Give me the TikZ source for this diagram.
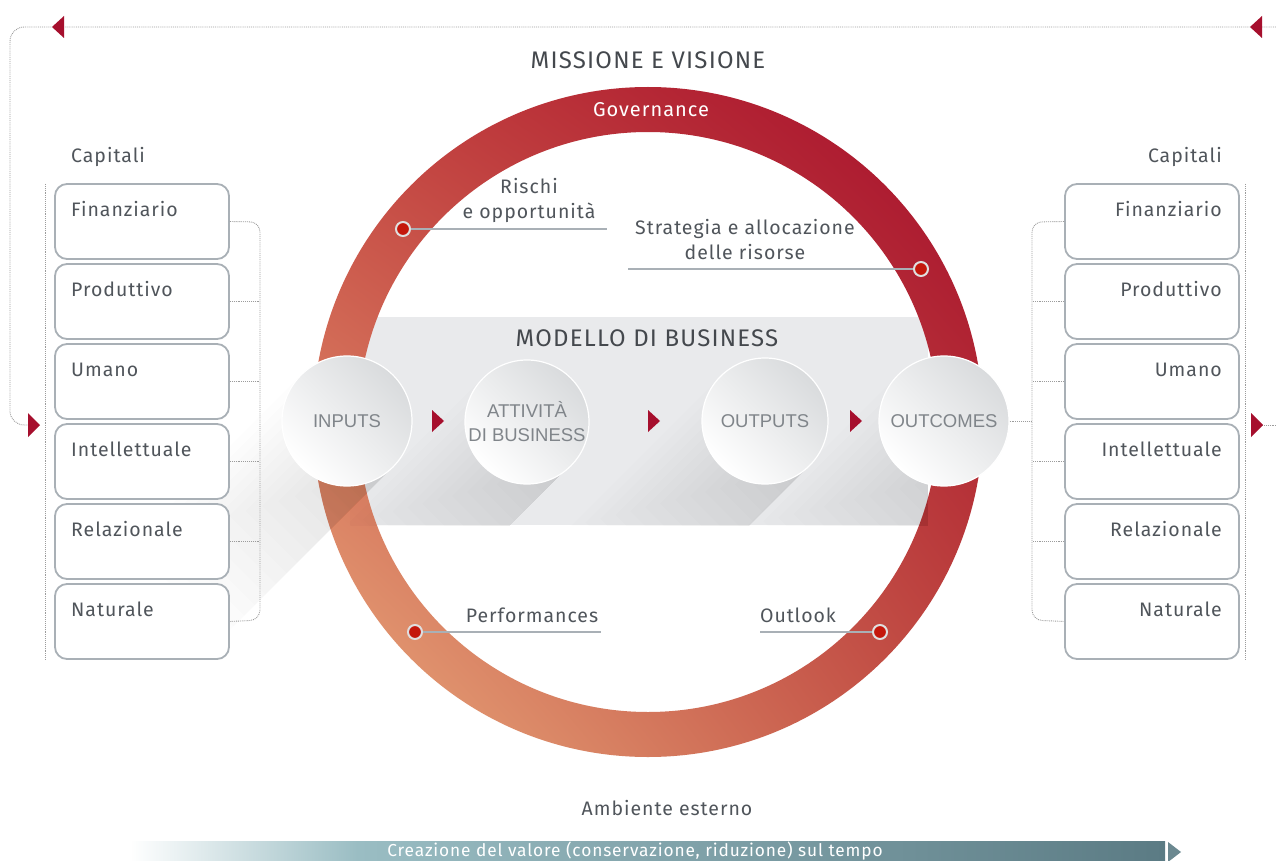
\documentclass[tikz,border=0pt]{standalone}
\usepackage{fontspec}
\setmainfont{Fira Sans}[LetterSpace=5]
\newfontfamily\arialf{Liberation Sans}
\usetikzlibrary{shadings}
\definecolor{txt}{HTML}{50555B}
\definecolor{boxc}{HTML}{A9B0B6}
\definecolor{dotc}{HTML}{9C9C9C}
\definecolor{crim}{HTML}{A60F2D}
\definecolor{bandc}{HTML}{E9EAEC}
\definecolor{ringUR}{HTML}{A50A2A}
\definecolor{ringUL}{HTML}{C4443F}
\definecolor{ringLR}{HTML}{C04A40}
\definecolor{ringLL}{HTML}{EBAE7E}
\definecolor{circT}{HTML}{D9DBDD}
\definecolor{ctext}{HTML}{80858A}
\definecolor{reddot}{HTML}{C4170C}
\definecolor{leadc}{HTML}{A9B0B6}
\definecolor{bara}{HTML}{9ABDC3}
\definecolor{barb}{HTML}{5B7B84}
\pgfdeclarehorizontalshading{barshade}{100bp}{color(0bp)=(white); color(25bp)=(white); color(36bp)=(bara); color(75bp)=(barb); color(100bp)=(barb)}
\begin{document}
\begin{tikzpicture}[x=1pt,y=-1pt,
  lbl/.style={font=\fontsize{19.5}{22}\selectfont, text=txt, inner sep=0pt},
  capbox/.style={draw=boxc, line width=1.8pt, fill=white, rounded corners=12pt, minimum width=174pt, minimum height=75pt, inner sep=0pt},
  bigcirc/.style={circle, inner sep=0pt, shading=axis, top color=circT, bottom color=white, shading angle=-45, draw=white, line width=1.2pt, font=\arialf\fontsize{18.5}{21}\selectfont, text=ctext, align=center},
  rdot/.style={circle, fill=reddot, draw=white!75!gray, line width=2pt, minimum size=14pt, inner sep=0pt},
  leader/.style={draw=leadc, line width=1.3pt},
  dotline/.style={draw=dotc, densely dotted, line width=0.9pt},
  redtri/.style={fill=crim},
  shadowstep/.style={fill=black, fill opacity=0.0075}
]
\useasboundingbox (0,0) rectangle (1276,861);
\fill[white] (0,0) rectangle (1276,861);

% band
\fill[bandc] (350,317) rectangle (928,525);

% ring
\shade[even odd rule, lower left=ringLL, upper right=ringUR, upper left=ringUL, lower right=ringLR]
  (648,422) circle[radius=335] (648,422) circle[radius=290];

% long shadows: stacked layers anchored on the lower-right tangent
\foreach \k in {1,...,16} {
  \pgfmathsetmacro{\a}{0.707*65}
  \pgfmathsetmacro{\w}{2*\a*\k/16}
  \pgfmathsetmacro{\lk}{170*\k/16}
  \fill[shadowstep]
    ({347+\a-\w},{421+\a-\w}) -- ({347+\a},{421+\a}) -- ({347+\a-\lk},{421+\a+\lk}) -- ({347+\a-\w-\lk},{421+\a-\w+\lk}) -- cycle;
}
\begin{scope}
\clip (350,317) rectangle (928,525);
\foreach \cx/\r in {527/62, 765/63, 944/65} {
  \foreach \k in {1,...,16} {
    \pgfmathsetmacro{\a}{0.707*\r}
    \pgfmathsetmacro{\w}{2*\a*\k/16}
    \pgfmathsetmacro{\lk}{150*\k/16}
    \fill[shadowstep]
      ({\cx+\a-\w},{421+\a-\w}) -- ({\cx+\a},{421+\a}) -- ({\cx+\a-\lk},{421+\a+\lk}) -- ({\cx+\a-\w-\lk},{421+\a-\w+\lk}) -- cycle;
  }
}
\end{scope}

% dotted frame lines
\coordinate (tA) at (1276,27);
\coordinate (tB) at (10,27);
\coordinate (tC) at (10,425);
\coordinate (tD) at (28,425);
\draw[dotline, rounded corners=14pt] (tA) -- (tB) -- (tC) -- (tD);
\coordinate (rA) at (1262,425);
\coordinate (rB) at (1276,425);
\draw[dotline] (rA) -- (rB);
\coordinate (lv1) at (45,184);
\coordinate (lv2) at (45,660);
\draw[dotline] (lv1) -- (lv2);
\coordinate (rv1) at (1245,184);
\coordinate (rv2) at (1245,660);
\draw[dotline] (rv1) -- (rv2);

% capital boxes
\foreach \n/\t [count=\i from 0] in {lf/Finanziario, lp/Produttivo, lu/Umano, li/Intellettuale, lr/Relazionale, ln/Naturale} {
  \node[capbox] (\n) at (142,{221.5+80*\i}) {};
  \node[lbl, anchor=base west] (\n t) at (71,{216+80*\i}) {\t};
}
\foreach \n/\t [count=\i from 0] in {rf/Finanziario, rp/Produttivo, ru/Umano, ri/Intellettuale, rr/Relazionale, rn/Naturale} {
  \node[capbox] (\n) at (1152,{221.5+80*\i}) {};
  \node[lbl, anchor=base east] (\n t) at (1222,{216+80*\i}) {\t};
}
\node[lbl, anchor=base west] (capl) at (71,163) {Capitali};
\node[lbl, anchor=base east] (capr) at (1222,163) {Capitali};

% brackets
\coordinate (lbk1) at (260,222);
\coordinate (lbk2) at (260,620);
\draw[dotline, rounded corners=10pt] (lf.east) -- (lbk1) -- (lbk2) -- (ln.east);
\foreach \n in {lp, lu, li, lr} { \draw[dotline] (\n.east) -- (\n.east -| lbk1); }
\coordinate (rbk1) at (1032,222);
\coordinate (rbk2) at (1032,620);
\draw[dotline, rounded corners=10pt] (rf.west) -- (rbk1) -- (rbk2) -- (rn.west);
\foreach \n in {rp, ru, ri, rr} { \draw[dotline] (\n.west) -- (\n.west -| rbk1); }

% circles
\node[bigcirc, minimum size=130pt] (inp) at (347,421) {INPUTS};
\node[bigcirc, minimum size=124pt] (att) at (527,422) {ATTIVITÀ\\[3pt]DI BUSINESS};
\node[bigcirc, minimum size=126pt] (outp) at (765,421) {OUTPUTS};
\node[bigcirc, minimum size=130pt] (outc) at (944,421) {OUTCOMES};
\draw[dotline] (outc.east) -- (outc.east -| rbk1);

% red triangles
\foreach \x in {432, 648, 850} { \fill[redtri] (\x,410) -- (\x+12,421) -- (\x,432) -- cycle; }
\fill[redtri] (28,413) -- (40,425) -- (28,437) -- cycle;
\fill[redtri] (1251,413) -- (1263,425) -- (1251,437) -- cycle;
\fill[redtri] (64,16) -- (52,27) -- (64,38) -- cycle;
\fill[redtri] (1262,16) -- (1250,27) -- (1262,38) -- cycle;

% titles
\node[font=\fontsize{24}{27}\selectfont, text=txt!85!black, inner sep=0pt] (mv) at (648,60) {MISSIONE E VISIONE};
\node[font=\fontsize{20}{22}\selectfont, text=white, inner sep=0pt] (gov) at (651,110) {Governance};
\node[font=\fontsize{24}{27}\selectfont, text=txt!85!black, inner sep=0pt] (mb) at (647,338) {MODELLO DI BUSINESS};

% ring dots and leaders
\node[rdot] (d1) at (403,229) {};
\coordinate (d1e) at (607,229);
\draw[leader] (d1.east) -- (d1e);
\node[lbl, align=center] (t1) at (529,200) {Rischi\\[3pt]e opportunità};

\node[rdot] (d2) at (921,269) {};
\coordinate (d2e) at (628,269);
\draw[leader] (d2e) -- (d2.west);
\node[lbl, align=center] (t2) at (745,240) {Strategia e allocazione\\[3pt]delle risorse};

\node[rdot] (d3) at (415,632) {};
\coordinate (d3e) at (601,632);
\draw[leader] (d3.east) -- (d3e);
\node[lbl] (t3) at (532,615) {Performances};

\node[rdot] (d4) at (880,632) {};
\coordinate (d4e) at (760,632);
\draw[leader] (d4e) -- (d4.west);
\node[lbl] (t4) at (798,615) {Outlook};

% bottom
\node[lbl] (amb) at (667,808) {Ambiente esterno};
\shade[shading=barshade] (130,841) rectangle (1165,861);
\fill[barb!90!white] (1168,842) -- (1181,852) -- (1168,862) -- cycle;
\node[font=\fontsize{17.3}{19}\selectfont, text=white, inner sep=0pt] (crea) at (635,851) {Creazione del valore (conservazione, riduzione) sul tempo};
\end{tikzpicture}
\end{document}
